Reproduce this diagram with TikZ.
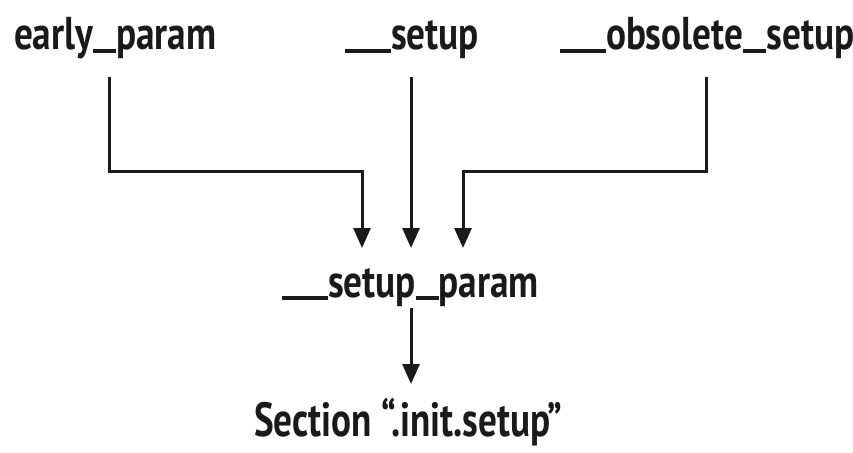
\documentclass[tikz,border=0pt]{standalone}
\usepackage{fontspec}
\newfontfamily\lbl{PT Sans}[UprightFont=* Bold, FakeStretch=0.81]
\newfontfamily\lblsec{PT Sans}[UprightFont=* Bold, FakeStretch=0.775]
\usetikzlibrary{arrows.meta}
\definecolor{ink}{HTML}{1A1A1A}
\newcommand\us{\rule[-0.06em]{0.5em}{0.072em}}
\tikzset{
  lab/.style={inner sep=0pt, outer sep=0pt, anchor=base west, text=ink,
    text height=44pt, text depth=11pt, font=\lbl\fontsize{46}{52}\selectfont},
  conn/.style={draw=ink, line width=3pt, -{Triangle[width=17pt,length=20pt]}}
}
\begin{document}
\begin{tikzpicture}[x=1pt,y=-1pt]
\useasboundingbox (0,0) rectangle (853,452);
\fill[white] (0,0) rectangle (853,452);
\node[lab] (ep) at (14,50) {early\us param};
\node[lab] (su) at (345,50) {\us\us setup};
\node[lab] (ob) at (560,50) {\us\us obsolete\us setup};
\node[lab] (sp) at (282,297) {\us\us setup\us param};
\node[lab, font=\lblsec\fontsize{48}{54}\selectfont] (sec) at (254,436) {Section “.init.setup”};
\coordinate (c1) at (362,171);
\coordinate (c3) at (463,171);
\coordinate (x1) at (109,0);
\coordinate (x2) at (411,0);
\coordinate (x3) at (706,0);
\draw[conn, shorten <=16pt, shorten >=5pt] (ep.south -| x1) |- (c1) -- (c1 |- sp.north);
\draw[conn, shorten <=16pt, shorten >=5pt] (su.south -| x2) -- (x2 |- sp.north);
\draw[conn, shorten <=16pt, shorten >=5pt] (ob.south -| x3) |- (c3) -- (c3 |- sp.north);
\draw[conn, shorten <=0pt, shorten >=8pt] (sp.south -| x2) -- (x2 |- sec.north);
\end{tikzpicture}
\end{document}
